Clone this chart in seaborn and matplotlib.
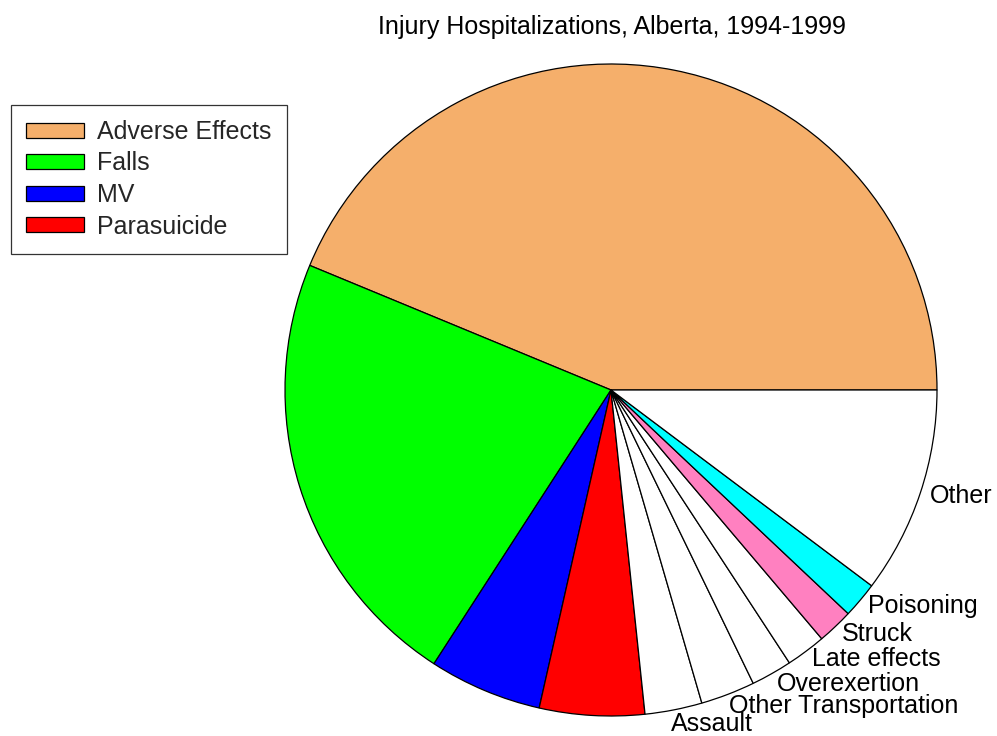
import matplotlib
matplotlib.use("Agg")
import matplotlib.pyplot as plt
import seaborn as sns

categories = ["Adverse Effects", "Falls", "MV", "Parasuicide", "Assault",
              "Other Transportation", "Overexertion", "Late effects", "Struck",
              "Poisoning", "Other"]
shares = [43.75, 22.1, 5.6, 5.2, 2.83, 2.69, 2.03, 1.97, 1.78, 1.78, 10.25]
slice_labels = ["", "", "", "", "Assault", "Other Transportation", "Overexertion",
                "Late effects", "Struck", "Poisoning", "Other"]
colors = ["#F5AF6B", "#00FF00", "#0000FF", "#FF0000", "#FFFFFF", "#FFFFFF",
          "#FFFFFF", "#FFFFFF", "#FF80C0", "#00FFFF", "#FFFFFF"]

sns.set_theme(style="white")
plt.rcParams["font.family"] = ["Liberation Sans", "DejaVu Sans"]

W, H = 997, 736
FS = 18
fig = plt.figure(figsize=(W / 100, H / 100), dpi=100)
fig.patch.set_facecolor("white")

cx, cy, r = 611, 390, 326
ax = fig.add_axes([(cx - r) / W, (H - cy - r) / H, 2 * r / W, 2 * r / H])
wedges, texts = ax.pie(shares, labels=slice_labels, colors=colors, startangle=0,
                       counterclock=True, labeldistance=1.03,
                       wedgeprops=dict(edgecolor="black", linewidth=0.9),
                       textprops=dict(fontsize=FS, color="black"))
ax.set_xlim(-1, 1)
ax.set_ylim(-1, 1)
ax.set_aspect("equal")
ax.axis("off")

# small nudges so the crowded bottom labels sit as in the reference
nudges = {"Assault": (-0.015, -0.014), "Other Transportation": (-0.008, -0.008),
          "Overexertion": (0.0, -0.005)}
for t in texts:
    dx, dy = nudges.get(t.get_text(), (0.0, 0.0))
    x, y = t.get_position()
    t.set_position((x + dx, y + dy))

fig.text(612 / W, 1 - 27 / H, "Injury Hospitalizations, Alberta, 1994-1999",
         ha="center", va="center", fontsize=FS, color="black")

leg = fig.legend(wedges[:4], categories[:4], loc="upper left",
                 bbox_to_anchor=(11 / W, 1 - 105 / H), fontsize=FS,
                 frameon=True, fancybox=False, edgecolor="black",
                 handlelength=2.3, handleheight=0.55, handletextpad=0.55,
                 labelspacing=0.3, borderpad=0.6, borderaxespad=0)
leg.get_frame().set_linewidth(0.9)

fig.savefig("out.png", dpi=100, facecolor="white")
